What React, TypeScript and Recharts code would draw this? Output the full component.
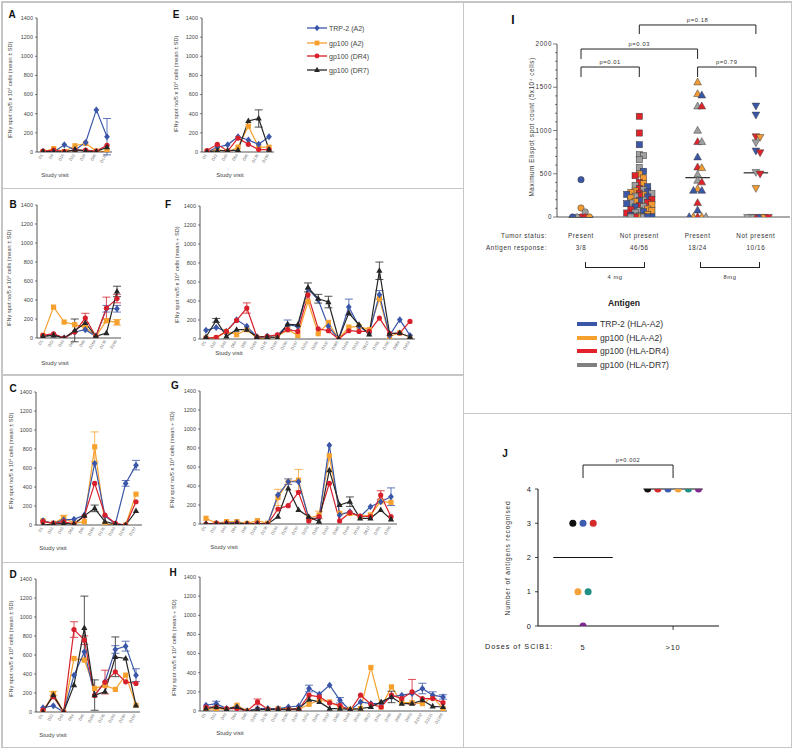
import React from 'react'
import { LineChart, Line, XAxis, YAxis, ErrorBar, ScatterChart, Scatter, ReferenceLine } from 'recharts'

const FONT = '"Liberation Sans", Arial, Helvetica, sans-serif'
const INK = '#2b2b2b'
const FRAME = '#c6c6c6'

type Key = 'trp2' | 'a2' | 'dr4' | 'dr7'

const SERIES: { key: Key; name: string; long: string; color: string; dot: string; shape: string }[] = [
   { key: 'trp2', name: 'TRP-2 (A2)', long: 'TRP-2 (HLA-A2)', color: '#3a56a8', dot: '#3b57a7', shape: 'diamond' },
   { key: 'a2', name: 'gp100 (A2)', long: 'gp100 (HLA-A2)', color: '#f6a02e', dot: '#f29b34', shape: 'square' },
   { key: 'dr4', name: 'gp100 (DR4)', long: 'gp100 (HLA-DR4)', color: '#d7202b', dot: '#e0242b', shape: 'circle' },
   { key: 'dr7', name: 'gp100 (DR7)', long: 'gp100 (HLA-DR7)', color: '#262626', dot: '#a0a0a0', shape: 'triangle' },
]
const DRAW_ORDER: Key[] = ['a2', 'trp2', 'dr4', 'dr7']
const LEGEND_BAR: Record<Key, string> = { trp2: '#3a56a8', a2: '#f6a02e', dr4: '#e3212b', dr7: '#808080' }

// ---- panel A
const visitsA = ['D1', 'D8', 'D15', 'D22', 'D29', 'D85', 'D176']
const trp2A = [0, 0, 75, 20, 100, 440, 160]
const a2A = [0, 35, 5, 65, 90, 10, 5]
const dr4A = [10, 20, 5, 20, 20, 10, 70]
const dr7A = [5, 5, 0, 25, 10, 5, 50]
const sdA = { trp2: { 6: 190 } }

// ---- panel B
const visitsB = ['D1', 'D22', 'D43', 'D64', 'D85', 'D169', 'D176', 'D190']
const trp2B = [18, 35, 0, 63, 88, 18, 308, 308]
const a2B = [28, 325, 168, 140, 112, 18, 182, 165]
const dr4B = [28, 45, 0, 63, 210, 18, 315, 415]
const dr7B = [18, 28, 0, 80, 158, 18, 52, 490]
const sdB = { trp2: { 6: 35, 7: 35 }, a2: { 6: 20, 7: 30 }, dr4: { 4: 50, 6: 115, 7: 45 }, dr7: { 3: 120, 7: 55 } }

// ---- panel C
const visitsC = ['D1', 'D22', 'D43', 'D64', 'D85', 'D169', 'D176', 'D183', 'D190', 'D197']
const trp2C = [45, 18, 53, 60, 105, 648, 95, 10, 438, 630]
const a2C = [45, 18, 77, 18, 35, 823, 10, 0, 0, 325]
const dr4C = [35, 18, 35, 10, 95, 438, 105, 18, 0, 245]
const dr7C = [0, 10, 18, 10, 98, 175, 35, 10, 0, 147]
const sdC = { trp2: { 8: 30, 9: 50 }, a2: { 2: 25, 5: 157 }, dr7: { 5: 35 } }

// ---- panel D
const visitsD = ['D1', 'D22', 'D43', 'D64', 'D85', 'D169', 'D176', 'D183', 'D190', 'D197']
const trp2D = [45, 66, 0, 388, 633, 178, 318, 658, 693, 388]
const a2D = [0, 196, 0, 563, 546, 248, 280, 238, 388, 70]
const dr4D = [21, 161, 0, 868, 756, 175, 315, 423, 318, 301]
const dr7D = [0, 178, 0, 283, 885, 178, 213, 581, 563, 70]
const sdD = { trp2: { 7: 40, 8: 52, 9: 67 }, a2: { 1: 20 }, dr4: { 3: 82, 4: 45, 6: 125 }, dr7: { 4: 335, 5: 160, 7: 209 } }

// ---- panel E
const visitsE = ['D1', 'D22', 'D43', 'D64', 'D85', 'D176', 'D190']
const trp2E = [0, 50, 75, 160, 125, 80, 160]
const a2E = [0, 30, 0, 50, 270, 50, 50]
const dr4E = [15, 80, 10, 145, 80, 25, 25]
const dr7E = [0, 15, 15, 20, 325, 350, 25]
const sdE = { dr7: { 5: 90 } }

// ---- panel F
const visitsF = ['D1', 'D22', 'D43', 'D64', 'D85', 'D169', 'D176', 'D183', 'D190', 'D197', 'D253', 'D281', 'D337', 'D365', 'D449', 'D533', 'D617', 'D701', 'D785', 'D869', 'D953']
const trp2F = [91, 122, 80, 203, 133, 21, 28, 38, 150, 133, 528, 413, 133, 0, 336, 133, 63, 465, 38, 203, 38]
const a2F = [10, 10, 80, 45, 98, 10, 0, 28, 98, 38, 395, 56, 175, 0, 126, 133, 98, 424, 28, 63, 21]
const dr4F = [10, 17, 80, 196, 326, 21, 28, 45, 98, 80, 465, 108, 87, 0, 87, 80, 80, 220, 56, 63, 185]
const dr7F = [21, 196, 28, 98, 98, 21, 21, 14, 154, 150, 543, 424, 389, 0, 273, 150, 49, 718, 56, 63, 21]
const sdF = { trp2: { 8: 50, 14: 84, 17: 45 }, dr4: { 4: 54 }, dr7: { 1: 20, 10: 47, 11: 46, 12: 61, 17: 92 } }

// ---- panel G
const visitsG = ['D1', 'D22', 'D43', 'D64', 'D85', 'D169', 'D176', 'D183', 'D190', 'D197', 'D253', 'D281', 'D337', 'D365', 'D449', 'D533', 'D617', 'D701', 'D785']
const trp2G = [0, 7, 7, 14, 0, 7, 0, 305, 445, 445, 60, 60, 830, 95, 130, 77, 182, 235, 287]
const a2G = [60, 7, 25, 25, 7, 35, 7, 280, 445, 462, 60, 95, 718, 112, 112, 77, 95, 235, 228]
const dr4G = [0, 7, 7, 7, 0, 7, 0, 158, 193, 333, 32, 77, 427, 32, 119, 84, 77, 305, 77]
const dr7G = [0, 0, 7, 7, 0, 0, 0, 77, 375, 147, 77, 25, 567, 200, 235, 60, 60, 147, 49]
const sdG = { trp2: { 8: 30, 18: 93 }, a2: { 7: 85, 9: 113, 11: 40 }, dr4: { 17: 45 }, dr7: { 14: 50 } }

// ---- panel H
const visitsH = ['D1', 'D22', 'D43', 'D64', 'D85', 'D169', 'D176', 'D183', 'D190', 'D197', 'D253', 'D281', 'D337', 'D365', 'D449', 'D533', 'D617', 'D701', 'D785', 'D869', 'D953', 'D1037', 'D1121', 'D1205']
const trp2H = [60, 77, 25, 42, 0, 25, 25, 25, 42, 52, 235, 175, 270, 112, 7, 95, 77, 77, 147, 165, 182, 235, 165, 147]
const a2H = [17, 25, 17, 60, 0, 17, 17, 25, 25, 17, 70, 112, 95, 42, 17, 25, 455, 42, 252, 87, 87, 77, 147, 25]
const dr4H = [42, 42, 25, 25, 0, 95, 17, 17, 17, 17, 165, 147, 84, 60, 7, 165, 70, 42, 165, 130, 200, 130, 130, 87]
const dr7H = [25, 42, 17, 42, 0, 17, 17, 17, 17, 25, 119, 95, 25, 25, 17, 25, 42, 95, 147, 77, 77, 112, 49, 42]
const sdH = { trp2: { 1: 25, 10: 35, 13: 28, 21: 55, 22: 35, 23: 23 }, dr4: { 5: 30, 20: 130 }, dr7: { 18: 60 } }

const IFN_TICKS = [0, 200, 400, 600, 800, 1000, 1200, 1400]

// ---- panel I (maximum ELISpot per patient/antigen)
const tumorStatus = ['Present', 'Not present', 'Present', 'Not present']
const antigenResponse = ['3/8', '46/56', '18/24', '10/16']
const doseCohorts = ['4 mg', '8mg']
const presentLowSpots = [432, 104, 58, 0, 0, 0, 0, 0]
const presentLowAntigens: Key[] = ['trp2', 'a2', 'dr7', 'dr4', 'dr4', 'dr7', 'a2', 'trp2']
const absentLowSpots = [1164, 971, 836, 720, 709, 663, 574, 528, 497, 478, 451, 401, 385, 366, 350, 330, 316, 300, 290, 285, 275, 270, 262, 255, 248, 240, 232, 220,
   205, 195, 188, 180, 170, 162, 154, 143, 131, 123, 116, 92, 85, 73, 73, 62, 54, 46, 30, 20, 12, 0, 0, 0, 0, 0, 0, 0]
const absentLowAntigens: Key[] = ['dr4', 'dr4', 'trp2', 'dr7', 'dr7', 'dr7', 'dr7', 'trp2', 'a2', 'dr4', 'a2', 'dr4', 'a2', 'dr7', 'trp2', 'dr4', 'dr7', 'a2', 'trp2', 'a2', 'dr4', 'dr7', 'trp2', 'a2', 'dr4', 'dr7', 'trp2', 'a2',
   'dr4', 'dr7', 'trp2', 'a2', 'dr4', 'dr7', 'trp2', 'a2', 'dr4', 'dr7', 'trp2', 'a2', 'dr4', 'dr7', 'a2', 'trp2', 'dr7', 'dr4', 'a2', 'trp2', 'dr7', 'dr4', 'trp2', 'a2', 'dr7', 'dr4', 'trp2', 'dr7']
const presentHighSpots = [1557, 1422, 1406, 1279, 1279, 998, 867, 867, 690, 574, 566, 489, 420, 401, 324, 304, 304, 162, 77, 0, 0, 0, 0, 0]
const presentHighAntigens: Key[] = ['a2', 'a2', 'trp2', 'dr7', 'dr4', 'dr7', 'dr4', 'dr7', 'trp2', 'dr4', 'a2', 'dr7', 'dr7', 'dr4', 'a2', 'trp2', 'trp2', 'dr4', 'trp2', 'dr4', 'a2', 'a2', 'dr7', 'trp2']
const absentHighSpots = [1287, 1183, 932, 925, 863, 767, 747, 520, 501, 335, 0, 0, 0, 0, 0, 0]
const absentHighAntigens: Key[] = ['trp2', 'trp2', 'dr4', 'a2', 'dr7', 'trp2', 'dr4', 'dr7', 'dr4', 'a2', 'dr4', 'trp2', 'dr7', 'a2', 'dr7', 'dr4']
const spotComparisons = [
   { from: 1, to: 2, p: 'p=0.01', top: 1734, leg: 1618 },
   { from: 1, to: 3, p: 'p=0.03', top: 1942, leg: 1827 },
   { from: 2, to: 4, p: 'p=0.18', top: 2220, leg: 2115 },
   { from: 3, to: 4, p: 'p=0.79', top: 1734, leg: 1618 },
]
const SPOT_TICKS = [0, 100, 200, 300, 400, 500, 600, 700, 800, 900, 1000, 1100, 1200, 1300, 1400, 1500, 1600, 1700, 1800, 1900, 2000]

// ---- panel J (antigens recognised by dose)
const doseGroups = ['5', '>10']
const fiveDoseCounts = [3, 3, 3, 1, 1, 0]
const fiveDosePatients = ['p1', 'p2', 'p3', 'p4', 'p5', 'p6']
const tenDoseCounts = [4, 4, 4, 4, 4, 4]
const tenDosePatients = ['p1', 'p3', 'p2', 'p4', 'p5', 'p6']
const doseComparison = { from: 1, to: 2, p: 'p=0.002', top: 4.7, leg: 4.32 }
const PATIENT_COLORS: Record<string, string> = { p1: '#111111', p2: '#3f5bb0', p3: '#d42a2a', p4: '#f5a13a', p5: '#1f8f86', p6: '#7e2a8e' }

// ---------------------------------------------------------------------------

function Marker({ cx, cy, shape, color, r, outline }: any) {
   if (cx == null || cy == null) return null
   const paint = { fill: color, stroke: outline || 'none', strokeWidth: outline ? 0.5 : 0 }
   if (shape === 'square') return <rect x={cx - r} y={cy - r} width={2 * r} height={2 * r} {...paint} />
   if (shape === 'diamond')
      return <polygon points={`${cx},${cy - r * 1.35} ${cx + r * 1.1},${cy} ${cx},${cy + r * 1.35} ${cx - r * 1.1},${cy}`} {...paint} />
   if (shape === 'triangle')
      return <polygon points={`${cx},${cy - r * 1.35} ${cx + r * 1.2},${cy + r * 0.8} ${cx - r * 1.2},${cy + r * 0.8}`} {...paint} />
   if (shape === 'down')
      return <polygon points={`${cx},${cy + r * 1.35} ${cx + r * 1.2},${cy - r * 0.8} ${cx - r * 1.2},${cy - r * 0.8}`} {...paint} />
   return <circle cx={cx} cy={cy} r={r} {...paint} />
}

function ValueTick({ x, y, payload }: any) {
   return (
      <g>
         <line x1={x} x2={x - 2} y1={y} y2={y} stroke={INK} strokeWidth={0.6} />
         <text x={x - 4} y={y} dy="0.35em" textAnchor="end" fontSize={5.5} fill="#444" fontFamily={FONT}>
            {payload.value}
         </text>
      </g>
   )
}

function VisitTick({ x, y, payload }: any) {
   const ty = y + 3
   return (
      <text x={x} y={ty} transform={`rotate(-60 ${x} ${ty})`} textAnchor="end" fontSize={4} fill="#666" fontFamily={FONT}>
         {payload.value}
      </text>
   )
}

function Tag({ x, y, children, size = 6, weight = 400, rotate = false, spacing = 0, color = '#333', anchor = 'center' }: any) {
   const shift = anchor === 'left' ? '0' : anchor === 'right' ? '-100%' : '-50%'
   return (
      <div
         style={{
            position: 'absolute',
            left: x,
            top: y,
            transform: `translate(${shift}, -50%)${rotate ? ' rotate(-90deg)' : ''}`,
            transformOrigin: rotate ? '50% 50%' : undefined,
            whiteSpace: 'nowrap',
            fontSize: size,
            fontWeight: weight,
            letterSpacing: spacing,
            color,
            lineHeight: 1,
         }}
      >
         {children}
      </div>
   )
}

type Geom = { x0: number; yTop: number; yZero: number; xFirst: number; xLast: number; xEnd: number; letter: [number, number]; yLabel: [number, number]; visit: [number, number] }

const AXIS_W = 30
const TOP_PAD = 6
const X_AXIS_H = 20

function TimeCourse({ id, g, visits, values, sd, sign }: { id: string; g: Geom; visits: string[]; values: Record<Key, number[]>; sd: any; sign: string }) {
   const rows = visits.map((visit, i) => {
      const row: Record<string, any> = { visit }
      for (const s of SERIES) {
         row[s.key] = values[s.key][i]
         const e = sd[s.key]?.[i]
         if (e) row[s.key + 'Sd'] = e
      }
      return row
   })
   const plotW = g.xEnd - g.x0
   const plotH = g.yZero - g.yTop
   return (
      <>
         <div style={{ position: 'absolute', left: g.x0 - AXIS_W, top: g.yTop - TOP_PAD }}>
            <LineChart width={AXIS_W + plotW + 6} height={TOP_PAD + plotH + X_AXIS_H} data={rows} margin={{ top: TOP_PAD, right: 6, bottom: 0, left: 0 }}>
               <XAxis
                  dataKey="visit"
                  height={X_AXIS_H}
                  padding={{ left: g.xFirst - g.x0, right: g.xEnd - g.xLast }}
                  interval={0}
                  tickLine={false}
                  tickSize={0}
                  tickMargin={0}
                  tick={(p: any) => <VisitTick {...p} />}
                  stroke={INK}
                  strokeWidth={0.8}
               />
               <YAxis
                  width={AXIS_W}
                  domain={[0, 1400]}
                  ticks={IFN_TICKS}
                  allowDataOverflow
                  interval={0}
                  tickLine={false}
                  tickSize={0}
                  tickMargin={0}
                  tick={(p: any) => <ValueTick {...p} />}
                  stroke={INK}
                  strokeWidth={0.8}
               />
               {DRAW_ORDER.map((k) => {
                  const s = SERIES.find((d) => d.key === k)!
                  return (
                     <Line
                        key={k}
                        dataKey={k}
                        name={s.name}
                        stroke={s.color}
                        strokeWidth={1.2}
                        isAnimationActive={false}
                        activeDot={false}
                        dot={(p: any) => <Marker key={`${id}-${k}-${p.index}`} cx={p.cx} cy={p.cy} shape={s.shape} color={s.color} r={2.6} />}
                     >
                        <ErrorBar dataKey={`${k}Sd`} width={4} strokeWidth={0.8} stroke={s.color} direction="y" />
                     </Line>
                  )
               })}
            </LineChart>
         </div>
         <Tag x={g.letter[0]} y={g.letter[1]} size={10} weight={700} color="#111">
            {id}
         </Tag>
         <Tag x={g.yLabel[0]} y={g.yLabel[1]} size={5.6} rotate color="#444">
            IFNγ spot no/5 x 10⁴ cells (mean {sign} SD)
         </Tag>
         <Tag x={g.visit[0]} y={g.visit[1]} size={6} color="#444">
            Study visit
         </Tag>
      </>
   )
}

function swarmOffsets(values: number[], slot: number, gap: number) {
   const taken: { v: number; k: number }[] = []
   const order = [0, 1, -1, 2, -2, 3, -3]
   return values.map((v) => {
      let best = 0
      let bestHits = Infinity
      for (const k of order) {
         const hits = taken.filter((t) => t.k === k && Math.abs(t.v - v) < gap).length
         if (hits < bestHits) {
            best = k
            bestHits = hits
         }
         if (hits === 0) break
      }
      taken.push({ v, k: best })
      return best * slot
   })
}

function spreadTies(values: number[], step: number) {
   return values.map((v, i) => {
      const same = values.filter((u) => u === v).length
      const rank = values.slice(0, i).filter((u) => u === v).length
      return (rank - (same - 1) / 2) * step
   })
}

function median(values: number[]) {
   const s = [...values].sort((a, b) => a - b)
   const m = Math.floor(s.length / 2)
   return s.length % 2 ? s[m] : (s[m - 1] + s[m]) / 2
}

const I_LEFT = 557
const I_TOP = 44
const I_W = 233
const I_H = 173

function SpotTick({ x, y, payload }: any) {
   const major = payload.value % 500 === 0
   return (
      <g>
         <line x1={x} x2={x - (major ? 4 : 2)} y1={y} y2={y} stroke={INK} strokeWidth={0.6} />
         {major && (
            <text x={x - 5} y={y} dy="0.35em" textAnchor="end" fontSize={6.3} letterSpacing={0.6} fill="#333" fontFamily={FONT}>
               {payload.value}
            </text>
         )}
      </g>
   )
}

function GroupTick({ x, y, payload }: any) {
   const i = payload.value - 1
   return (
      <g fontFamily={FONT} fontSize={6.3} fill="#333" letterSpacing={0.6}>
         <text x={x} y={y + 19} dy="0.35em" textAnchor="middle">
            {tumorStatus[i]}
         </text>
         <text x={x} y={y + 31} dy="0.35em" textAnchor="middle">
            {antigenResponse[i]}
         </text>
      </g>
   )
}

function SpotPanel() {
   const groups = [
      { spots: presentLowSpots, antigens: presentLowAntigens, shape: 'circle', r: 3.2 },
      { spots: absentLowSpots, antigens: absentLowAntigens, shape: 'square', r: 3.1 },
      { spots: presentHighSpots, antigens: presentHighAntigens, shape: 'triangle', r: 3.2 },
      { spots: absentHighSpots, antigens: absentHighAntigens, shape: 'down', r: 3.2 },
   ]
   return (
      <>
         <div style={{ position: 'absolute', left: I_LEFT - AXIS_W, top: 0 }}>
            <ScatterChart width={AXIS_W + I_W + 4} height={I_TOP + I_H + 40} margin={{ top: I_TOP, right: 4, bottom: 0, left: 0 }}>
               <XAxis
                  type="number"
                  dataKey="x"
                  domain={[0.588, 4.585]}
                  ticks={[1, 2, 3, 4]}
                  allowDataOverflow
                  height={40}
                  interval={0}
                  tickLine={false}
                  tickSize={0}
                  tickMargin={0}
                  tick={(p: any) => <GroupTick {...p} />}
                  stroke={INK}
                  strokeWidth={0.8}
               />
               <YAxis
                  type="number"
                  dataKey="y"
                  width={AXIS_W}
                  domain={[0, 2000]}
                  ticks={SPOT_TICKS}
                  allowDataOverflow
                  interval={0}
                  tickLine={false}
                  tickSize={0}
                  tickMargin={0}
                  tick={(p: any) => <SpotTick {...p} />}
                  stroke={INK}
                  strokeWidth={0.8}
               />
               {groups.map((grp, gi) => {
                  const offs = swarmOffsets(grp.spots, 0.072, 55)
                  const pts = grp.spots.map((v, i) => ({ x: gi + 1 + offs[i], y: v, antigen: grp.antigens[i] }))
                  return (
                     <Scatter
                        key={gi}
                        data={pts}
                        isAnimationActive={false}
                        shape={(p: any) => (
                           <Marker cx={p.cx} cy={p.cy} shape={grp.shape} r={grp.r} color={SERIES.find((s) => s.key === p.payload.antigen)!.dot} outline="#3a3a3a" />
                        )}
                     />
                  )
               })}
               {groups.map((grp, gi) => {
                  const m = median(grp.spots)
                  return (
                     <ReferenceLine
                        key={`m${gi}`}
                        segment={[
                           { x: gi + 1 - 0.21, y: m },
                           { x: gi + 1 + 0.21, y: m },
                        ]}
                        stroke="#111"
                        strokeWidth={1.1}
                        ifOverflow="visible"
                     />
                  )
               })}
               {spotComparisons.map((c) => [
                  <ReferenceLine
                     key={`${c.p}h`}
                     segment={[
                        { x: c.from, y: c.top },
                        { x: c.to, y: c.top },
                     ]}
                     stroke="#222"
                     strokeWidth={1}
                     ifOverflow="visible"
                     label={{ value: c.p, position: 'top', offset: 3, fontSize: 5.8, fill: '#333', letterSpacing: 0.6, fontFamily: FONT }}
                  />,
                  <ReferenceLine key={`${c.p}a`} segment={[{ x: c.from, y: c.top }, { x: c.from, y: c.leg }]} stroke="#222" strokeWidth={1} ifOverflow="visible" />,
                  <ReferenceLine key={`${c.p}b`} segment={[{ x: c.to, y: c.top }, { x: c.to, y: c.leg }]} stroke="#222" strokeWidth={1} ifOverflow="visible" />,
               ])}
            </ScatterChart>
         </div>
         <Tag x={513} y={20} size={12} weight={700} color="#111">
            I
         </Tag>
         <Tag x={532} y={127} size={6.4} rotate spacing={0.55} color="#333">
            Maximum Elispot spot count (5x10⁴ cells)
         </Tag>
         <Tag x={547} y={236} size={6.3} spacing={0.6} anchor="right">
            Tumor status:
         </Tag>
         <Tag x={547} y={248} size={6.3} spacing={0.6} anchor="right">
            Antigen response:
         </Tag>
         {doseCohorts.map((d, i) => {
            const left = i === 0 ? 585 : 700
            return (
               <React.Fragment key={d}>
                  <div style={{ position: 'absolute', left, top: 262, width: 58, height: 5, borderLeft: '1px solid #222', borderRight: '1px solid #222', borderBottom: '1px solid #222' }} />
                  <Tag x={left + 30} y={278} size={5.8} spacing={0.5}>
                     {d}
                  </Tag>
               </React.Fragment>
            )
         })}
         <Tag x={624} y={303} size={8.6} weight={700} color="#222">
            Antigen
         </Tag>
         {SERIES.map((s, i) => (
            <React.Fragment key={s.key}>
               <div style={{ position: 'absolute', left: 577, top: [324, 338, 351, 365][i] - 2, width: 20, height: 4, background: LEGEND_BAR[s.key] }} />
               <Tag x={600} y={[324, 338, 351, 365][i]} size={8.6} anchor="left" color="#333">
                  {s.long}
               </Tag>
            </React.Fragment>
         ))}
      </>
   )
}

const J_LEFT = 538
const J_TOP = 489
const J_W = 181
const J_H = 137

function CountTick({ x, y, payload }: any) {
   return (
      <g>
         <line x1={x} x2={x - 3} y1={y} y2={y} stroke="#111" strokeWidth={0.8} />
         <text x={x - 7} y={y} dy="0.35em" textAnchor="end" fontSize={7.5} fill="#222" fontFamily={FONT}>
            {payload.value}
         </text>
      </g>
   )
}

function DoseTick({ x, y, payload }: any) {
   const i = payload.value - 1
   return (
      <g>
         {i === doseGroups.length - 1 && <line x1={x} x2={x} y1={y} y2={y + 4} stroke="#111" strokeWidth={0.8} />}
         <text x={x} y={y + 21} dy="0.35em" textAnchor="middle" fontSize={7.4} letterSpacing={0.8} fill="#222" fontFamily={FONT}>
            {doseGroups[i]}
         </text>
      </g>
   )
}

function DosePanel() {
   const groups = [
      { counts: fiveDoseCounts, patients: fiveDosePatients },
      { counts: tenDoseCounts, patients: tenDosePatients },
   ]
   return (
      <>
         <div style={{ position: 'absolute', left: J_LEFT - AXIS_W, top: J_TOP - 35 }}>
            <ScatterChart width={AXIS_W + J_W + 6} height={35 + J_H + 30} margin={{ top: 35, right: 6, bottom: 0, left: 0 }}>
               <XAxis
                  type="number"
                  dataKey="x"
                  domain={[0.5, 2.51]}
                  ticks={[1, 2]}
                  allowDataOverflow
                  height={30}
                  interval={0}
                  tickLine={false}
                  tickSize={0}
                  tickMargin={0}
                  tick={(p: any) => <DoseTick {...p} />}
                  stroke="#111"
                  strokeWidth={1}
               />
               <YAxis
                  type="number"
                  dataKey="y"
                  width={AXIS_W}
                  domain={[0, 4]}
                  ticks={[0, 1, 2, 3, 4]}
                  allowDataOverflow
                  interval={0}
                  tickLine={false}
                  tickSize={0}
                  tickMargin={0}
                  tick={(p: any) => <CountTick {...p} />}
                  stroke="#111"
                  strokeWidth={1}
               />
               {groups.map((grp, gi) => {
                  const m = median(grp.counts)
                  return (
                     <ReferenceLine
                        key={`m${gi}`}
                        segment={[
                           { x: gi + 1 - 0.33, y: m },
                           { x: gi + 1 + 0.33, y: m },
                        ]}
                        stroke="#111"
                        strokeWidth={1}
                        ifOverflow="visible"
                     />
                  )
               })}
               {groups.map((grp, gi) => {
                  const offs = spreadTies(grp.counts, 0.113)
                  const pts = grp.counts.map((v, i) => ({ x: gi + 1 + offs[i], y: v, patient: grp.patients[i] }))
                  return (
                     <Scatter
                        key={gi}
                        data={pts}
                        isAnimationActive={false}
                        shape={(p: any) => <Marker cx={p.cx} cy={p.cy} shape="circle" r={3.5} color={PATIENT_COLORS[p.payload.patient]} />}
                     />
                  )
               })}
               <ReferenceLine
                  segment={[
                     { x: doseComparison.from, y: doseComparison.top },
                     { x: doseComparison.to, y: doseComparison.top },
                  ]}
                  stroke="#222"
                  strokeWidth={1}
                  ifOverflow="visible"
                  label={{ value: doseComparison.p, position: 'top', offset: 3, fontSize: 5.6, fill: '#333', letterSpacing: 0.6, fontFamily: FONT }}
               />
               <ReferenceLine segment={[{ x: doseComparison.from, y: doseComparison.top }, { x: doseComparison.from, y: doseComparison.leg }]} stroke="#222" strokeWidth={1} ifOverflow="visible" />
               <ReferenceLine segment={[{ x: doseComparison.to, y: doseComparison.top }, { x: doseComparison.to, y: doseComparison.leg }]} stroke="#222" strokeWidth={1} ifOverflow="visible" />
            </ScatterChart>
         </div>
         <Tag x={505} y={454} size={10} weight={700} color="#111">
            J
         </Tag>
         <Tag x={508} y={558} size={6.6} rotate spacing={0.8} color="#333">
            Number of antigens recognised
         </Tag>
         <Tag x={485} y={647} size={7.2} spacing={1} anchor="left" color="#222">
            Doses of SCIB1:
         </Tag>
      </>
   )
}

function Legend4() {
   const rows = [28, 42.5, 56, 70]
   return (
      <>
         {SERIES.map((s, i) => (
            <React.Fragment key={s.key}>
               <svg style={{ position: 'absolute', left: 306, top: rows[i] - 4 }} width={22} height={8}>
                  <line x1={1} x2={21} y1={4} y2={4} stroke={s.color} strokeWidth={1.3} />
                  <Marker cx={11} cy={4} shape={s.shape} color={s.color} r={2.4} />
               </svg>
               <Tag x={329} y={rows[i]} size={7} anchor="left" color="#444">
                  {s.name}
               </Tag>
            </React.Fragment>
         ))}
      </>
   )
}

const geoms: Record<string, Geom> = {
   A: { x0: 37, yTop: 18, yZero: 152, xFirst: 43, xLast: 107, xEnd: 112, letter: [12, 15], yLabel: [11, 90], visit: [55, 175] },
   B: { x0: 37, yTop: 205, yZero: 338, xFirst: 43, xLast: 117, xEnd: 121, letter: [13, 205], yLabel: [10, 278], visit: [55, 363] },
   C: { x0: 36, yTop: 392, yZero: 525, xFirst: 43, xLast: 136, xEnd: 142, letter: [13, 389], yLabel: [12, 461], visit: [53, 548] },
   D: { x0: 36, yTop: 579, yZero: 712, xFirst: 43, xLast: 136, xEnd: 140, letter: [13, 575], yLabel: [12, 649], visit: [53, 735] },
   E: { x0: 202, yTop: 18, yZero: 152, xFirst: 207, xLast: 269, xEnd: 274, letter: [176, 15], yLabel: [177, 84], visit: [230, 175] },
   F: { x0: 200, yTop: 206, yZero: 339, xFirst: 206, xLast: 410, xEnd: 415, letter: [168, 205], yLabel: [178, 275], visit: [229, 353] },
   G: { x0: 200, yTop: 391, yZero: 524, xFirst: 206, xLast: 391, xEnd: 397, letter: [175, 386], yLabel: [173, 460], visit: [224, 547] },
   H: { x0: 200, yTop: 577, yZero: 711, xFirst: 206, xLast: 443, xEnd: 447, letter: [173, 573], yLabel: [175, 648], visit: [230, 733] },
}

function Rule({ x, y, w, h }: { x: number; y: number; w: number; h: number }) {
   return <div style={{ position: 'absolute', left: x, top: y, width: w, height: h, background: FRAME }} />
}

export default function App() {
   return (
      <div style={{ position: 'absolute', left: 0, top: 0, width: 794, height: 749, background: '#fff', fontFamily: FONT, overflow: 'hidden' }}>
         {/* frames */}
         <Rule x={1} y={1} w={790} h={1.5} />
         <Rule x={1} y={746.5} w={791} h={1.5} />
         <Rule x={1} y={1} w={1.5} h={747} />
         <Rule x={462.5} y={1} w={1.5} h={747} />
         <Rule x={790.5} y={1} w={1.5} h={747} />
         <Rule x={1} y={187.5} w={462} h={1.5} />
         <Rule x={1} y={374} w={462} h={1.5} />
         <Rule x={1} y={561.5} w={462} h={1.5} />
         <Rule x={463} y={412.5} w={329} h={1.5} />

         <TimeCourse id="A" g={geoms.A} visits={visitsA} values={{ trp2: trp2A, a2: a2A, dr4: dr4A, dr7: dr7A }} sd={sdA} sign="±" />
         <TimeCourse id="B" g={geoms.B} visits={visitsB} values={{ trp2: trp2B, a2: a2B, dr4: dr4B, dr7: dr7B }} sd={sdB} sign="±" />
         <TimeCourse id="C" g={geoms.C} visits={visitsC} values={{ trp2: trp2C, a2: a2C, dr4: dr4C, dr7: dr7C }} sd={sdC} sign="±" />
         <TimeCourse id="D" g={geoms.D} visits={visitsD} values={{ trp2: trp2D, a2: a2D, dr4: dr4D, dr7: dr7D }} sd={sdD} sign="±" />
         <TimeCourse id="E" g={geoms.E} visits={visitsE} values={{ trp2: trp2E, a2: a2E, dr4: dr4E, dr7: dr7E }} sd={sdE} sign="±" />
         <TimeCourse id="F" g={geoms.F} visits={visitsF} values={{ trp2: trp2F, a2: a2F, dr4: dr4F, dr7: dr7F }} sd={sdF} sign="+" />
         <TimeCourse id="G" g={geoms.G} visits={visitsG} values={{ trp2: trp2G, a2: a2G, dr4: dr4G, dr7: dr7G }} sd={sdG} sign="+" />
         <TimeCourse id="H" g={geoms.H} visits={visitsH} values={{ trp2: trp2H, a2: a2H, dr4: dr4H, dr7: dr7H }} sd={sdH} sign="+" />
         <Legend4 />

         <SpotPanel />
         <DosePanel />
      </div>
   )
}
